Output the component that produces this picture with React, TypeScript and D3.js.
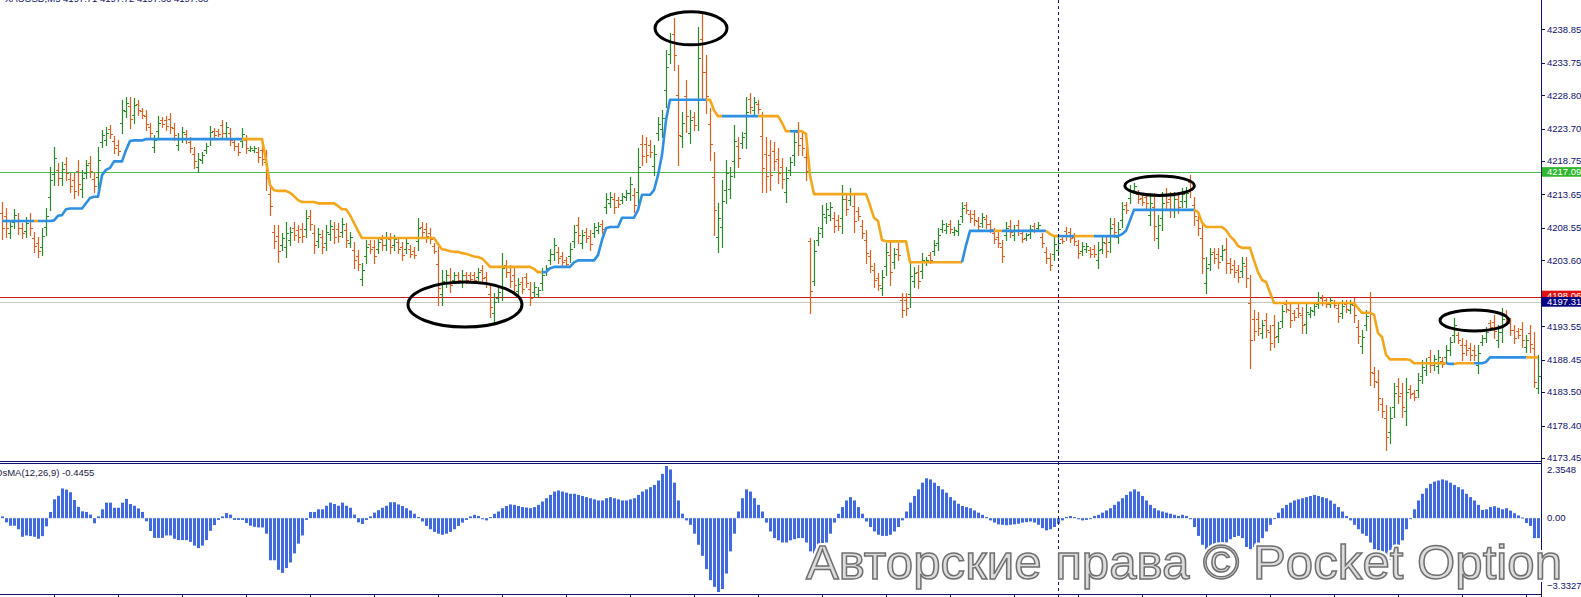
import React, { useMemo } from "react";
import * as d3 from "d3";

const W = 1581;
const H = 597;

// Price axis labels (right scale of the main window)
const priceTicks = [4238.85, 4233.75, 4228.8, 4223.7, 4218.75, 4213.65, 4208.55, 4203.6, 4198.5, 4193.55, 4188.45, 4183.5, 4178.4, 4173.45];
const osmaTicks = [2.3548, 0.0, -3.3327];

// OHLC bars: [open, high, low, close]
const ohlc: [number, number, number, number][] = [
[4210.8,4212.5,4206.8,4208.5],[4210.3,4211.6,4207.2,4208.5],[4207.8,4209.7,4207.0,4208.9],[4209.4,4211.4,4208.5,4210.5],[4209.8,4210.8,4207.6,4208.6],
[4208.6,4209.3,4207.0,4207.7],[4208.1,4210.2,4207.2,4209.3],[4209.8,4210.8,4207.5,4208.5],[4207.0,4207.9,4204.9,4205.8],[4206.2,4207.1,4204.1,4205.0],
[4205.6,4208.5,4204.4,4207.3],[4208.7,4211.6,4207.5,4210.4],[4213.2,4217.8,4211.3,4215.9],[4216.8,4220.9,4215.1,4219.2],[4217.4,4218.4,4215.1,4216.1],
[4216.1,4218.6,4215.1,4217.6],[4218.3,4219.4,4215.8,4216.9],[4216.0,4216.9,4214.0,4214.9],[4215.8,4216.9,4213.1,4214.2],[4217.3,4218.9,4213.6,4215.2],
[4214.5,4217.4,4213.3,4216.2],[4217.0,4218.9,4216.2,4218.1],[4218.5,4219.5,4216.3,4217.3],[4216.0,4216.9,4214.0,4214.9],[4216.3,4220.9,4214.3,4218.9],
[4221.7,4223.5,4220.9,4222.7],[4222.0,4223.9,4221.2,4223.1],[4223.6,4224.2,4222.3,4222.9],[4221.8,4222.6,4220.0,4220.8],[4221.2,4221.9,4219.7,4220.3],
[4224.5,4228.1,4223.0,4226.6],[4226.4,4228.5,4225.5,4227.6],[4227.1,4228.5,4223.8,4225.2],[4225.7,4228.4,4224.6,4227.3],[4227.4,4228.1,4225.8,4226.5],
[4226.4,4226.8,4225.3,4225.8],[4225.6,4226.5,4223.5,4224.4],[4223.9,4224.6,4222.4,4223.1],[4220.9,4222.7,4220.1,4221.9],[4223.4,4225.6,4222.4,4224.6],
[4225.0,4225.5,4223.9,4224.4],[4225.0,4225.6,4223.5,4224.1],[4225.2,4226.1,4223.0,4223.9],[4223.8,4224.6,4221.9,4222.7],[4221.2,4223.0,4220.4,4222.2],
[4222.3,4223.9,4221.6,4223.2],[4222.9,4223.5,4221.5,4222.1],[4221.7,4222.4,4220.1,4220.8],[4219.9,4220.9,4217.7,4218.7],[4217.9,4220.0,4217.1,4219.1],
[4218.9,4220.1,4218.4,4219.6],[4220.4,4221.5,4220.0,4221.0],[4222.1,4224.1,4221.2,4223.2],[4223.3,4223.8,4222.3,4222.8],[4223.3,4223.6,4222.6,4222.9],
[4224.2,4225.0,4222.3,4223.1],[4223.1,4224.7,4222.4,4224.0],[4223.0,4223.8,4221.2,4222.0],[4221.7,4222.3,4220.4,4221.0],[4221.0,4221.5,4219.7,4220.2],
[4221.8,4223.8,4220.9,4222.9],[4221.9,4222.7,4220.0,4220.8],[4220.5,4221.0,4220.3,4220.8],[4220.4,4221.0,4220.1,4220.8],[4220.2,4220.9,4218.6,4219.3],
[4220.5,4221.5,4218.1,4219.1],[4218.6,4220.4,4214.3,4216.1],[4213.7,4215.1,4210.5,4211.9],[4208.0,4209.0,4205.5,4206.6],[4207.3,4209.0,4203.3,4205.0],
[4206.0,4207.8,4205.2,4207.0],[4205.7,4209.4,4204.1,4207.8],[4206.7,4208.7,4205.9,4207.9],[4208.6,4209.4,4206.7,4207.5],[4208.2,4209.0,4206.4,4207.2],
[4208.4,4209.3,4206.4,4207.3],[4208.4,4211.3,4207.2,4210.1],[4210.4,4211.3,4208.2,4209.1],[4207.7,4209.0,4204.7,4206.0],[4206.5,4208.5,4205.6,4207.6],
[4207.2,4208.2,4204.7,4205.7],[4206.3,4209.0,4205.2,4207.9],[4207.6,4209.7,4206.7,4208.8],[4208.4,4209.4,4206.2,4207.2],[4208.4,4209.3,4206.4,4207.3],
[4208.0,4210.0,4207.2,4209.2],[4208.2,4209.3,4205.6,4206.7],[4206.3,4207.9,4205.6,4207.2],[4205.2,4206.4,4202.4,4203.6],[4204.3,4205.2,4202.1,4203.0],
[4200.8,4203.2,4199.8,4202.2],[4204.2,4206.7,4203.2,4205.6],[4206.1,4206.7,4204.7,4205.3],[4205.6,4206.7,4203.2,4204.2],[4205.4,4207.1,4204.7,4206.4],
[4206.8,4207.5,4205.2,4205.9],[4206.0,4207.9,4205.2,4207.1],[4206.9,4207.8,4204.7,4205.6],[4205.9,4207.5,4205.2,4206.8],[4206.4,4207.1,4204.7,4205.4],
[4205.6,4206.4,4203.6,4204.4],[4205.4,4207.0,4204.7,4206.3],[4205.4,4205.9,4204.1,4204.6],[4205.1,4205.6,4203.9,4204.4],[4206.6,4210.0,4205.2,4208.6],
[4208.7,4209.4,4207.2,4207.9],[4208.4,4209.3,4206.4,4207.3],[4207.8,4208.5,4206.2,4206.9],[4205.8,4206.2,4204.7,4205.1],[4203.0,4205.6,4196.8,4199.4],
[4198.4,4202.1,4196.8,4200.5],[4200.3,4202.1,4199.5,4201.3],[4201.3,4202.4,4198.8,4199.9],[4200.6,4201.8,4200.1,4201.3],[4201.3,4201.8,4200.1,4200.6],
[4200.3,4202.1,4199.5,4201.3],[4201.3,4201.8,4200.1,4200.6],[4201.4,4201.8,4200.3,4200.8],[4201.3,4201.8,4200.1,4200.6],[4201.1,4202.4,4200.6,4201.9],
[4202.1,4202.9,4200.1,4200.9],[4201.1,4201.8,4199.5,4200.2],[4198.5,4200.1,4194.9,4196.5],[4195.5,4198.6,4194.2,4197.3],[4197.9,4199.4,4197.2,4198.7],
[4199.7,4204.7,4197.5,4202.5],[4202.9,4203.6,4201.1,4201.8],[4201.9,4202.9,4199.5,4200.5],[4201.3,4202.4,4198.8,4199.9],[4198.9,4200.9,4198.0,4200.0],
[4200.3,4201.0,4198.6,4199.3],[4201.0,4201.7,4199.5,4200.2],[4199.3,4200.3,4196.8,4197.8],[4198.7,4200.3,4198.0,4199.6],[4198.4,4199.5,4198.0,4199.1],
[4200.1,4202.4,4199.1,4201.4],[4201.8,4202.9,4201.4,4202.4],[4203.7,4205.3,4203.0,4204.6],[4204.6,4207.0,4203.6,4206.0],[4204.9,4205.6,4203.2,4203.9],
[4204.2,4204.9,4202.6,4203.3],[4203.7,4204.1,4202.6,4203.0],[4204.2,4206.2,4203.3,4205.3],[4206.6,4209.0,4205.6,4208.0],[4209.0,4210.2,4206.2,4207.4],
[4206.3,4208.2,4205.5,4207.4],[4207.9,4208.5,4206.4,4207.0],[4207.3,4208.2,4205.2,4206.1],[4207.8,4209.3,4207.2,4208.7],[4208.3,4209.4,4207.8,4208.9],
[4209.1,4209.7,4207.8,4208.4],[4211.7,4213.9,4210.8,4212.9],[4212.4,4214.0,4211.7,4213.3],[4213.0,4213.9,4210.8,4211.7],[4212.8,4213.3,4211.7,4212.2],
[4212.8,4213.9,4212.3,4213.4],[4213.2,4214.3,4212.8,4213.8],[4213.8,4216.3,4212.8,4215.3],[4213.5,4214.6,4211.0,4212.1],[4214.1,4220.7,4211.3,4217.9],
[4221.3,4222.7,4218.1,4219.5],[4221.3,4222.4,4218.6,4219.7],[4221.2,4221.9,4219.4,4220.2],[4218.0,4221.2,4216.6,4219.8],[4223.0,4225.5,4221.9,4224.4],
[4223.6,4226.5,4222.4,4225.3],[4229.6,4235.7,4227.0,4233.1],[4235.1,4238.3,4233.7,4236.9],[4238.2,4240.6,4232.6,4235.0],[4228.8,4233.4,4218.1,4222.7],
[4222.5,4226.2,4220.9,4224.6],[4228.7,4231.1,4223.2,4225.6],[4223.0,4226.5,4221.5,4225.0],[4225.4,4226.2,4223.5,4224.3],[4228.2,4239.2,4223.5,4234.5],
[4237.4,4241.3,4228.4,4232.3],[4232.3,4234.9,4226.1,4228.7],[4224.4,4226.8,4218.9,4221.3],[4216.3,4220.1,4207.5,4211.3],[4207.1,4212.3,4204.9,4210.1],
[4208.7,4215.8,4205.6,4212.7],[4214.3,4218.9,4212.3,4216.9],[4214.5,4217.8,4213.1,4216.4],[4218.7,4224.2,4216.3,4221.8],[4221.0,4222.4,4217.8,4219.2],
[4221.5,4223.2,4220.7,4222.4],[4223.0,4228.5,4220.7,4226.2],[4228.2,4229.1,4226.1,4227.0],[4226.6,4228.5,4225.8,4227.7],[4227.5,4228.1,4226.1,4226.7],
[4222.5,4226.2,4214.0,4217.7],[4219.9,4222.4,4214.0,4216.5],[4219.6,4221.9,4214.3,4216.6],[4220.3,4221.6,4217.4,4218.7],[4219.1,4220.7,4215.4,4217.0],
[4217.8,4219.2,4214.6,4216.0],[4214.1,4217.8,4212.5,4216.2],[4217.4,4219.4,4216.6,4218.6],[4219.6,4223.2,4218.1,4221.7],[4223.2,4224.7,4219.7,4221.2],
[4222.2,4223.2,4219.7,4220.7],[4219.4,4220.9,4215.8,4217.3],[4206.5,4207.0,4195.6,4199.0],[4200.5,4206.7,4199.8,4205.0],[4206.7,4208.7,4205.9,4207.8],
[4208.6,4212.0,4207.2,4210.6],[4210.2,4212.3,4209.3,4211.4],[4210.5,4212.5,4209.7,4211.7],[4210.1,4211.0,4207.9,4208.8],[4209.8,4210.5,4208.2,4208.9],
[4210.0,4215.1,4207.8,4212.9],[4212.9,4213.9,4210.5,4211.5],[4212.8,4214.6,4212.0,4213.8],[4211.9,4213.6,4207.9,4209.6],[4211.1,4211.7,4209.7,4210.3],
[4208.9,4209.7,4207.0,4207.8],[4206.7,4208.2,4203.2,4204.7],[4204.2,4205.2,4201.8,4202.8],[4202.1,4203.2,4199.5,4200.6],[4200.9,4201.7,4199.1,4199.9],
[4199.4,4202.1,4198.3,4201.0],[4202.8,4206.2,4201.4,4204.8],[4204.4,4206.4,4199.8,4201.8],[4203.3,4205.5,4202.4,4204.6],[4205.4,4206.2,4203.6,4204.4],
[4197.5,4198.6,4194.9,4196.0],[4197.6,4198.6,4195.3,4196.3],[4198.5,4203.2,4196.5,4201.2],[4200.4,4202.6,4199.5,4201.7],[4201.9,4202.9,4199.4,4200.4],
[4202.0,4204.7,4200.9,4203.6],[4203.3,4204.1,4202.9,4203.7],[4204.4,4204.9,4203.2,4203.7],[4205.1,4206.7,4204.4,4206.0],[4206.2,4208.5,4205.2,4207.5],
[4208.4,4209.7,4207.9,4209.2],[4208.2,4209.3,4207.8,4208.9],[4209.1,4209.7,4207.8,4208.4],[4207.9,4208.7,4207.5,4208.3],[4208.1,4209.7,4207.5,4209.1],
[4210.3,4212.5,4209.4,4211.6],[4212.0,4212.5,4210.8,4211.3],[4210.7,4211.3,4209.4,4210.0],[4210.6,4211.3,4209.0,4209.7],[4209.6,4210.2,4208.2,4208.8],
[4209.3,4210.8,4208.7,4210.2],[4209.9,4210.5,4208.5,4209.1],[4209.2,4209.7,4207.9,4208.4],[4207.8,4208.5,4206.2,4206.9],[4207.2,4207.9,4205.6,4206.3],
[4205.7,4206.7,4203.3,4204.3],[4207.5,4209.4,4206.7,4208.6],[4208.9,4209.7,4207.2,4207.9],[4207.4,4209.0,4206.7,4208.3],[4209.0,4209.7,4207.5,4208.2],
[4207.7,4208.2,4206.4,4206.9],[4207.0,4207.8,4206.7,4207.5],[4207.6,4209.0,4207.0,4208.4],[4208.9,4209.3,4207.9,4208.3],[4208.6,4209.4,4208.2,4209.0],
[4207.1,4207.8,4205.6,4206.3],[4204.9,4205.6,4203.2,4203.9],[4203.9,4204.7,4202.1,4202.9],[4204.6,4207.1,4203.6,4206.1],[4205.2,4207.1,4204.4,4206.3],
[4206.8,4207.1,4206.2,4206.5],[4208.1,4208.7,4206.7,4207.3],[4207.9,4208.5,4206.4,4207.0],[4207.2,4207.8,4205.9,4206.5],[4205.9,4206.7,4203.9,4204.7],
[4205.0,4206.4,4204.4,4205.8],[4205.3,4206.2,4204.9,4205.8],[4205.2,4205.6,4204.1,4204.6],[4205.4,4205.9,4204.1,4204.6],[4203.6,4206.4,4202.4,4205.2],
[4205.4,4207.1,4204.7,4206.4],[4206.2,4207.1,4204.1,4205.0],[4206.4,4210.0,4204.9,4208.5],[4209.2,4210.0,4207.2,4208.0],[4207.2,4209.4,4206.2,4208.4],
[4209.8,4212.5,4208.7,4211.4],[4212.0,4212.5,4210.8,4211.3],[4213.1,4215.1,4212.3,4214.3],[4214.3,4215.4,4213.9,4215.0],[4213.7,4214.3,4212.3,4212.9],
[4213.1,4213.6,4212.0,4212.5],[4213.2,4213.9,4211.6,4212.3],[4210.5,4213.9,4209.0,4212.4],[4211.7,4213.9,4206.7,4208.9],[4207.0,4210.5,4205.5,4209.0],
[4210.0,4214.0,4208.2,4212.3],[4213.7,4214.6,4211.6,4212.5],[4212.9,4214.0,4210.2,4211.3],[4211.3,4214.0,4210.2,4212.9],[4213.0,4214.0,4210.8,4211.8],
[4212.6,4214.6,4211.7,4213.7],[4212.6,4214.8,4211.7,4213.9],[4215.6,4216.6,4213.3,4214.3],[4212.0,4213.3,4209.0,4210.3],[4209.8,4210.8,4207.5,4208.5],
[4207.0,4209.3,4201.6,4203.9],[4200.2,4204.1,4198.6,4202.5],[4203.1,4205.5,4202.1,4204.5],[4204.8,4205.5,4203.2,4203.9],[4204.6,4205.5,4202.4,4203.3],
[4204.3,4205.9,4203.6,4205.2],[4205.4,4207.0,4201.6,4203.2],[4203.2,4203.9,4201.6,4202.3],[4202.9,4203.6,4201.1,4201.8],[4202.1,4202.9,4200.3,4201.1],
[4202.0,4204.1,4201.1,4203.2],[4202.7,4204.1,4199.5,4200.9],[4197.1,4201.4,4187.2,4191.5],[4194.6,4196.0,4191.4,4192.8],[4194.6,4195.7,4192.2,4193.3],
[4192.5,4194.5,4191.7,4193.7],[4194.5,4195.6,4191.9,4193.0],[4192.6,4193.7,4189.9,4191.0],[4193.8,4195.3,4190.4,4191.9],[4192.0,4194.2,4191.1,4193.3],
[4194.4,4196.8,4193.4,4195.8],[4197.0,4197.5,4195.7,4196.2],[4196.1,4197.2,4193.4,4194.5],[4195.6,4196.0,4194.5,4194.9],[4196.4,4197.1,4194.9,4195.6],
[4195.3,4196.5,4192.5,4193.7],[4193.9,4197.1,4192.5,4195.7],[4195.4,4196.5,4194.9,4196.0],[4195.8,4197.1,4195.3,4196.6],[4197.0,4198.7,4196.3,4198.0],
[4197.8,4198.3,4196.8,4197.2],[4197.5,4198.0,4196.5,4197.0],[4197.0,4198.0,4196.5,4197.5],[4197.2,4197.5,4196.5,4196.8],[4196.3,4197.2,4194.2,4195.1],
[4195.6,4197.5,4194.8,4196.7],[4197.0,4197.5,4195.7,4196.2],[4196.1,4197.5,4195.6,4197.0],[4196.8,4197.9,4194.2,4195.3],[4193.5,4194.5,4191.0,4192.0],
[4190.5,4192.9,4189.5,4191.9],[4193.8,4196.0,4192.9,4195.1],[4195.5,4198.7,4184.6,4186.5],[4186.4,4187.3,4184.3,4185.2],[4185.1,4186.9,4180.8,4182.6],
[4181.7,4182.6,4179.7,4180.6],[4179.5,4181.5,4174.7,4176.7],[4177.4,4181.2,4175.7,4179.5],[4181.3,4184.9,4179.7,4183.3],[4184.5,4185.6,4181.8,4182.9],
[4183.3,4184.9,4179.7,4181.3],[4180.6,4185.6,4178.5,4183.5],[4184.0,4184.6,4182.6,4183.2],[4183.4,4183.8,4182.3,4182.8],[4183.8,4186.4,4182.7,4185.3],
[4185.9,4188.4,4184.9,4187.3],[4186.9,4188.7,4186.1,4187.9],[4188.9,4189.9,4186.6,4187.6],[4187.6,4189.2,4186.9,4188.5],[4187.5,4189.9,4186.4,4188.9],
[4188.3,4188.8,4187.3,4187.8],[4188.9,4190.7,4188.1,4189.9],[4190.0,4191.9,4189.2,4191.1],[4192.2,4194.8,4191.1,4193.7],[4192.2,4192.7,4191.0,4191.5],
[4190.7,4191.7,4188.4,4189.4],[4190.7,4191.4,4189.2,4189.9],[4190.2,4191.0,4188.4,4189.2],[4190.0,4190.7,4188.4,4189.1],[4187.7,4190.7,4186.4,4189.4],
[4191.1,4192.2,4190.7,4191.8],[4191.8,4193.4,4191.1,4192.7],[4194.1,4194.5,4193.0,4193.4],[4194.2,4195.3,4191.7,4192.8],[4191.4,4193.7,4190.4,4192.7],
[4192.7,4196.3,4191.1,4194.7],[4195.3,4196.0,4193.7,4194.4],[4194.0,4194.8,4192.2,4193.0],[4192.9,4193.7,4191.0,4191.8],[4192.8,4193.3,4191.7,4192.2],
[4193.1,4194.2,4190.4,4191.5],[4190.4,4192.2,4189.6,4191.4],[4192.5,4193.7,4189.6,4190.8],[4190.2,4192.7,4184.3,4185.0],[4184.2,4189.2,4183.3,4186.0],
];

// OsMA(12,26,9) histogram values, one per bar
const osma: number[] = [
0.08,-0.19,-0.34,-0.34,-0.5,-0.84,-0.78,-0.81,-0.84,-0.93,
-0.81,-0.37,0.28,0.85,1.01,1.34,1.29,1.17,0.82,0.51,
0.31,0.28,0.16,-0.23,0.08,0.4,0.7,0.7,0.47,0.47,
0.7,0.87,0.64,0.56,0.44,0.28,-0.14,-0.58,-0.89,-0.89,
-0.89,-0.78,-0.78,-0.93,-0.99,-0.99,-0.99,-1.07,-1.24,-1.35,
-1.24,-0.99,-0.57,-0.31,-0.08,0.08,0.23,0.16,-0.08,-0.08,
-0.08,-0.22,-0.34,-0.39,-0.42,-0.42,-0.7,-1.9,-1.9,-2.33,
-2.47,-2.25,-2.0,-1.59,-1.15,-0.78,-0.08,0.28,0.28,0.4,
0.4,0.56,0.7,0.64,0.56,0.7,0.56,0.47,0.16,-0.19,
-0.26,-0.08,0.08,0.25,0.36,0.47,0.56,0.72,0.72,0.62,
0.55,0.45,0.35,0.2,0.05,-0.15,-0.35,-0.5,-0.62,-0.7,
-0.75,-0.7,-0.62,-0.5,-0.35,-0.2,-0.08,0.08,0.15,0.1,
-0.05,-0.1,0.05,0.2,0.3,0.45,0.55,0.62,0.6,0.55,
0.5,0.48,0.45,0.5,0.6,0.75,0.9,1.05,1.2,1.25,
1.2,1.15,1.1,1.1,1.05,1.0,0.95,0.9,0.85,0.8,
0.8,0.9,0.95,0.9,0.85,0.8,0.8,0.85,0.9,1.05,
1.2,1.3,1.4,1.5,1.7,2.0,2.3548,2.2,1.6,0.8,
0.2,-0.1,-0.3,-0.7,-1.2,-1.7,-2.3,-2.8,-3.1,-3.3327,
-3.2,-2.5,-1.5,-0.7,0.3,0.9,1.3,1.2,0.9,0.6,
0.3,-0.2,-0.6,-0.9,-1.0,-1.1,-1.1,-1.0,-0.95,-0.9,
-0.9,-1.1,-1.5,-1.7,-1.6,-1.4,-1.1,-0.7,-0.2,0.2,
0.5,0.8,0.95,0.8,0.5,0.2,-0.15,-0.4,-0.6,-0.75,
-0.8,-0.8,-0.75,-0.6,-0.4,-0.1,0.3,0.7,1.0,1.3,
1.6,1.8,1.75,1.6,1.45,1.3,1.15,0.95,0.8,0.65,
0.55,0.5,0.45,0.35,0.25,0.15,0.05,-0.1,-0.2,-0.28,
-0.3,-0.32,-0.3,-0.28,-0.25,-0.2,-0.18,-0.15,-0.2,-0.3,
-0.45,-0.55,-0.5,-0.4,-0.25,-0.1,0.05,0.1,0.05,-0.05,
-0.1,-0.08,0.0,0.1,0.15,0.25,0.35,0.45,0.6,0.75,
0.9,1.05,1.2,1.3,1.2,1.0,0.8,0.6,0.45,0.35,
0.3,0.25,0.2,0.15,0.1,0.15,0.1,-0.05,-0.4,-0.8,
-1.2,-1.6,-1.85,-1.8,-1.6,-1.35,-1.1,-0.95,-0.85,-0.8,
-0.9,-1.3,-1.4,-1.3,-1.1,-0.9,-0.6,-0.3,0.0,0.25,
0.45,0.6,0.7,0.8,0.85,0.9,0.95,1.0,1.05,1.0,
0.95,0.9,0.8,0.65,0.5,0.3,0.1,-0.1,-0.3,-0.5,
-0.7,-0.8,-1.1,-1.4,-1.6,-1.8,-1.9,-1.9,-1.8,-1.5,
-1.0,-0.5,0.0,0.4,0.8,1.1,1.35,1.55,1.65,1.7,
1.75,1.7,1.6,1.5,1.4,1.3,1.1,0.95,0.8,0.6,
0.37,0.4,0.5,0.54,0.47,0.4,0.45,0.34,0.22,0.12,
0.03,-0.22,-0.35,-0.9,-0.9,
];

// Trailing stop line: [level, number of bars, trend] ('b' = up / blue, 'o' = down / orange)
const stopRuns: [number, number, string][] = [
[4209.6,9,"b"],[4209.6,1,"o"],[4209.6,3,"b"],[4209.7,1,"b"],[4210.4,1,"b"],[4210.5,1,"b"],[4211.4,1,"b"],[4211.5,4,"b"],
[4212.3,1,"b"],[4213.1,1,"b"],[4213.3,2,"b"],[4216.6,1,"b"],[4217.4,1,"b"],[4217.7,1,"b"],[4218.7,3,"b"],[4220.4,1,"b"],
[4221.8,1,"b"],[4221.9,3,"b"],[4222.1,25,"b"],
[4222.1,5,"o"],[4218.9,1,"o"],[4215.1,1,"o"],[4214.3,1,"o"],[4214.2,3,"o"],[4213.9,1,"o"],[4213.4,1,"o"],[4212.8,1,"o"],
[4212.5,4,"o"],[4212.3,5,"o"],[4211.9,1,"o"],[4211.4,2,"o"],[4210.5,1,"o"],[4209.3,1,"o"],[4208.1,1,"o"],[4207.0,19,"o"],
[4206.1,1,"o"],[4205.3,1,"o"],[4205.2,1,"o"],[4205.0,1,"o"],[4204.9,2,"o"],[4204.7,1,"o"],[4204.6,1,"o"],[4204.4,1,"o"],
[4204.2,1,"o"],[4204.1,1,"o"],[4203.9,1,"o"],[4203.3,1,"o"],[4202.6,11,"o"],[4202.3,1,"o"],[4201.8,2,"o"],
[4201.8,1,"b"],[4202.4,1,"b"],[4202.6,5,"b"],[4203.3,1,"b"],[4203.6,5,"b"],[4204.4,1,"b"],[4206.7,1,"b"],[4208.5,1,"b"],
[4208.7,3,"b"],[4210.1,4,"b"],[4211.3,1,"b"],[4213.6,3,"b"],[4214.3,1,"b"],[4216.6,1,"b"],[4219.7,1,"b"],[4225.0,1,"b"],
[4228.1,10,"b"],
[4228.1,1,"o"],[4226.5,1,"o"],[4225.6,2,"o"],[4225.6,9,"b"],[4225.6,5,"o"],[4224.6,1,"o"],[4223.3,2,"o"],[4223.3,2,"b"],
[4223.3,1,"o"],[4222.9,1,"o"],[4216.6,1,"o"],[4213.7,14,"o"],[4212.0,1,"o"],[4210.1,1,"o"],[4209.6,1,"o"],[4206.7,1,"o"],
[4206.5,6,"o"],[4203.3,14,"o"],
[4205.9,1,"b"],[4208.1,7,"b"],[4208.1,2,"o"],[4208.1,11,"b"],[4207.6,1,"o"],[4207.3,2,"o"],[4207.3,4,"b"],[4207.3,5,"o"],
[4207.3,6,"b"],[4207.6,1,"b"],[4208.1,1,"b"],[4209.7,1,"b"],[4211.3,16,"b"],
[4211.0,1,"o"],[4209.4,1,"o"],[4208.7,5,"o"],[4208.2,1,"o"],[4207.3,1,"o"],[4206.7,1,"o"],[4205.8,1,"o"],[4205.5,3,"o"],
[4203.6,1,"o"],[4201.8,1,"o"],[4200.6,1,"o"],[4200.3,1,"o"],[4198.7,1,"o"],[4197.1,21,"o"],[4196.3,1,"o"],[4195.6,3,"o"],
[4195.3,1,"o"],[4192.5,1,"o"],[4191.9,1,"o"],[4189.2,1,"o"],[4188.5,5,"o"],[4188.4,1,"o"],[4187.9,9,"o"],
[4187.8,2,"b"],[4187.9,5,"o"],[4187.9,2,"b"],[4188.1,1,"b"],[4188.8,10,"b"],[4188.8,3,"o"],
];

// Horizontal price lines
const levelGreen = 4217.09;
const levelRed = 4198.06;
const levelBid = 4197.31;
const sessionBar = 264; // vertical dotted separator (bar index)
const timeTickStart = 13;
const timeTickStep = 16;

// Hand-drawn ellipses: [center bar, center price, half width (bars), half height (price)]
const ellipses: [number, number, number, number][] = [
  [172.25, 4239.0, 9.0, 2.52],
  [115.75, 4196.85, 14.25, 3.43],
  [289.4, 4214.99, 8.7, 1.48],
  [368.1, 4194.43, 8.6, 1.6],
];

const headerText = "XAUUSD,M5  4197.71 4197.72 4197.66 4197.68";
const osmaLabel = "OsMA(12,26,9) -0.4455";
const watermark = "Авторские права © Pocket Option";

const NAVY = "#10106e";
const UP = "#2b8a2b";
const DOWN = "#e2601e";
const BLUE = "#2f8fe3";
const ORANGE = "#f4a61d";
const HIST = "#4169e1";
const FONT = "'Liberation Sans', Arial, sans-serif";

export default function App() {
  const N = ohlc.length;
  const AXIS_X = 1541;
  const MAIN_BOTTOM = 461;

  const x = useMemo(() => d3.scaleLinear().domain([0, 384]).range([2, 1538]), []);
  const yP = useMemo(() => d3.scaleLinear().domain([4243.32, 4172.99]).range([0, MAIN_BOTTOM]), []);
  const yO = useMemo(() => d3.scaleLinear().domain([2.3548, -3.3327]).range([466, 592]), []);

  const stop = useMemo(() => {
    const lv: number[] = [];
    const cl: string[] = [];
    stopRuns.forEach(([v, n, c]) => {
      for (let k = 0; k < n; k++) {
        lv.push(v);
        cl.push(c);
      }
    });
    const groups: { color: string; pts: [number, number][] }[] = [];
    for (let i = 1; i < lv.length; i++) {
      const c = cl[i];
      const last = groups[groups.length - 1];
      if (last && last.color === c) {
        last.pts.push([x(i), yP(lv[i])]);
      } else {
        groups.push({ color: c, pts: [[x(i - 1), yP(lv[i - 1])], [x(i), yP(lv[i])]] });
      }
    }
    return groups;
  }, [x, yP]);

  const line = d3.line<[number, number]>().x((d) => d[0]).y((d) => d[1]);

  const barPath = (up: boolean) => {
    let d = "";
    ohlc.forEach(([o, h, l, c], i) => {
      if ((c >= o) !== up) return;
      const X = Math.round(x(i)) + 0.5;
      const yh = Math.round(yP(h));
      const yl = Math.round(yP(l)) + 1;
      const yo = Math.round(yP(o)) + 0.5;
      const yc = Math.round(yP(c)) + 0.5;
      d += `M${X},${yh}V${yl}M${X - 2.5},${yo}H${X}M${X},${yc}H${X + 2.5}`;
    });
    return d;
  };

  const timeTicks: number[] = [];
  for (let i = timeTickStart; i < N; i += timeTickStep) timeTicks.push(i);

  const zeroY = yO(0);
  const yRed = yP(levelRed);
  const yBid = yP(levelBid);

  return (
    <svg
      width={W}
      height={H}
      viewBox={`0 0 ${W} ${H}`}
      style={{ position: "fixed", left: 0, top: 0, background: "#fff" }}
      fontFamily={FONT}
    >
      <defs>
        <clipPath id="mainClip">
          <rect x={0} y={0} width={AXIS_X} height={MAIN_BOTTOM} />
        </clipPath>
        <clipPath id="oscClip">
          <rect x={0} y={465} width={AXIS_X} height={129} />
        </clipPath>
      </defs>
      <rect x={0} y={0} width={W} height={H} fill="#fff" />

      {/* header */}
      <text x={5} y={1.6} fontSize={9.5} fill={NAVY}>{headerText}</text>

      <g clipPath="url(#mainClip)">
        <line x1={0} x2={AXIS_X} y1={Math.round(yBid) + 0.5} y2={Math.round(yBid) + 0.5} stroke="#c8c8c8" strokeWidth={1} />
        <line x1={0} x2={AXIS_X} y1={Math.round(yRed) + 0.5} y2={Math.round(yRed) + 0.5} stroke="#d01818" strokeWidth={1} />
        <line x1={0} x2={AXIS_X} y1={Math.round(yP(levelGreen)) + 0.5} y2={Math.round(yP(levelGreen)) + 0.5} stroke="#4cb84c" strokeWidth={1} />

        <path d={barPath(true)} stroke={UP} strokeWidth={1.2} fill="none" />
        <path d={barPath(false)} stroke={DOWN} strokeWidth={1.2} fill="none" />

        {stop.map((g, k) => (
          <path
            key={k}
            d={line(g.pts) || ""}
            stroke={g.color === "b" ? BLUE : ORANGE}
            strokeWidth={2.6}
            fill="none"
            strokeLinejoin="round"
          />
        ))}

        {ellipses.map(([ci, cp, rb, rp], k) => (
          <ellipse
            key={k}
            cx={x(ci)}
            cy={yP(cp)}
            rx={x(ci + rb) - x(ci)}
            ry={yP(cp - rp) - yP(cp)}
            fill="none"
            stroke="#000"
            strokeWidth={3}
          />
        ))}
      </g>

      {/* OsMA histogram */}
      <g clipPath="url(#oscClip)">
        {osma.map((v, i) => {
          const yv = yO(v);
          const top = Math.min(yv, zeroY);
          const h = Math.max(1, Math.abs(yv - zeroY));
          return <rect key={i} x={Math.round(x(i)) - 1} y={top} width={3} height={h} fill={HIST} />;
        })}
      </g>
      <text x={-5} y={476} fontSize={9.5} fill="#1a1a40">{osmaLabel}</text>

      {/* vertical dotted separator */}
      <line
        x1={Math.round(x(sessionBar)) + 0.5}
        x2={Math.round(x(sessionBar)) + 0.5}
        y1={0}
        y2={H}
        stroke={NAVY}
        strokeWidth={1}
        strokeDasharray="3,3"
      />

      {/* frame */}
      <line x1={0} x2={AXIS_X} y1={461.5} y2={461.5} stroke={NAVY} strokeWidth={1} />
      <line x1={0} x2={AXIS_X} y1={463.5} y2={463.5} stroke={NAVY} strokeWidth={1} />
      <line x1={0} x2={AXIS_X} y1={594.5} y2={594.5} stroke={NAVY} strokeWidth={1} />
      <line x1={AXIS_X + 0.5} x2={AXIS_X + 0.5} y1={0} y2={H} stroke={NAVY} strokeWidth={1} />
      {timeTicks.map((i) => (
        <line key={i} x1={Math.round(x(i)) + 0.5} x2={Math.round(x(i)) + 0.5} y1={594} y2={H} stroke={NAVY} strokeWidth={1} />
      ))}

      {/* price axis */}
      {priceTicks.map((p) => (
        <g key={p}>
          <line x1={AXIS_X} x2={AXIS_X + 4} y1={Math.round(yP(p)) + 0.5} y2={Math.round(yP(p)) + 0.5} stroke={NAVY} />
          <text x={1547} y={yP(p)} dy="0.35em" fontSize={9.5} fill={NAVY}>
            {d3.format(".2f")(p)}
          </text>
        </g>
      ))}
      <text x={1547} y={466} dy="0.75em" fontSize={9.5} fill={NAVY}>{d3.format(".4f")(osmaTicks[0])}</text>
      <text x={1547} y={zeroY} dy="0.35em" fontSize={9.5} fill={NAVY}>{d3.format(".2f")(osmaTicks[1])}</text>

      {/* price labels */}
      <rect x={AXIS_X + 1} y={yP(levelGreen) - 4.8} width={W - AXIS_X - 1} height={9.6} fill="#2fb52f" />
      <text x={1547} y={yP(levelGreen)} dy="0.35em" fontSize={9.5} fill="#fff">{levelGreen.toFixed(2)}</text>
      <rect x={AXIS_X + 1} y={yRed - 6} width={W - AXIS_X - 1} height={10} fill="#e01010" />
      <text x={1547} y={yRed - 1} dy="0.35em" fontSize={9.5} fill="#fff">{levelRed.toFixed(2)}</text>
      <rect x={AXIS_X + 1} y={yBid - 4.5} width={W - AXIS_X - 1} height={9.6} fill="#000080" />
      <text x={1547} y={yBid + 0.3} dy="0.35em" fontSize={9.5} fill="#fff">{levelBid.toFixed(2)}</text>

      {/* watermark */}
      <g fontFamily={FONT} fontSize={49}>
        <text x={806} y={579} textLength={756} lengthAdjust="spacingAndGlyphs" fill="none" stroke="#fff" strokeWidth={6} strokeLinejoin="round">
          {watermark}
        </text>
        <text x={806} y={579} textLength={756} lengthAdjust="spacingAndGlyphs" fill="#dcdcdc" stroke="#6f6f6f" strokeWidth={1.5}>
          {watermark}
        </text>
      </g>
      <text x={1547} y={589} fontSize={9.5} fill={NAVY}>{d3.format(".4f")(osmaTicks[2])}</text>
    </svg>
  );
}
